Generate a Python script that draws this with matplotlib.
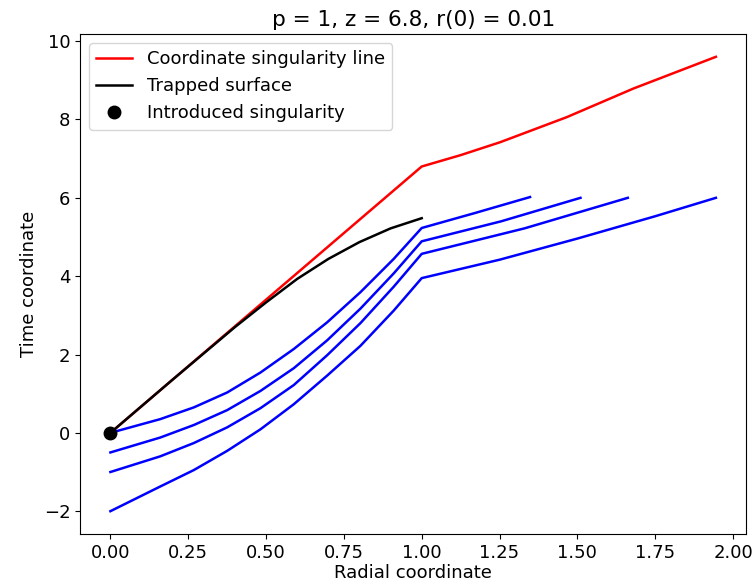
import matplotlib.pyplot as plt

# coordinate singularity line (red)
sing_r = [0.0, 0.5, 1.0, 1.125, 1.252, 1.466, 1.68, 1.945]
sing_t = [0.0, 3.4, 6.8, 7.09, 7.42, 8.06, 8.79, 9.6]

# trapped surface (black)
trap_r = [0.0, 0.1, 0.2, 0.3, 0.4, 0.5, 0.6, 0.7, 0.8, 0.9, 1.0]
trap_t = [0.0, 0.68, 1.36, 2.03, 2.70, 3.33, 3.93, 4.44, 4.87, 5.22, 5.48]

# blue curves, one per starting time
blue_r = [
    [0.0, 0.16, 0.268, 0.375, 0.482, 0.589, 0.696, 0.803, 0.91, 1.0, 1.17, 1.348],
    [0.0, 0.16, 0.268, 0.375, 0.482, 0.589, 0.696, 0.803, 0.91, 1.0, 1.255, 1.51],
    [0.0, 0.16, 0.268, 0.375, 0.482, 0.589, 0.696, 0.803, 0.91, 1.0, 1.33, 1.662],
    [0.0, 0.16, 0.268, 0.375, 0.482, 0.589, 0.696, 0.803, 0.91, 1.0, 1.25, 1.5, 1.75, 1.945],
]
blue_t = [
    [0.0, 0.35, 0.65, 1.03, 1.54, 2.14, 2.82, 3.59, 4.44, 5.23, 5.61, 6.02],
    [-0.5, -0.12, 0.20, 0.58, 1.07, 1.65, 2.36, 3.17, 4.07, 4.89, 5.40, 6.0],
    [-1.0, -0.60, -0.26, 0.14, 0.63, 1.22, 1.98, 2.80, 3.73, 4.57, 5.22, 6.0],
    [-2.0, -1.37, -0.95, -0.46, 0.09, 0.73, 1.46, 2.22, 3.12, 3.95, 4.42, 4.96, 5.53, 6.0],
]

plt.rcParams['font.size'] = 13

fig, ax = plt.subplots(figsize=(7.56, 5.88), dpi=100)
fig.subplots_adjust(left=0.106, right=0.987, top=0.942, bottom=0.092)

ax.plot(sing_r, sing_t, color='red', lw=1.8, label='Coordinate singularity line')
ax.plot(trap_r, trap_t, color='black', lw=1.8, label='Trapped surface')
for r, t in zip(blue_r, blue_t):
    ax.plot(r, t, color='blue', lw=1.8)
ax.plot([0], [0], 'o', color='black', markersize=9, label='Introduced singularity')

ax.set_xlabel('Radial coordinate', labelpad=2)
ax.set_ylabel('Time coordinate')
ax.set_title('p = 1, z = 6.8, r(0) = 0.01')
ax.legend(loc='upper left')

plt.savefig('out.png')
